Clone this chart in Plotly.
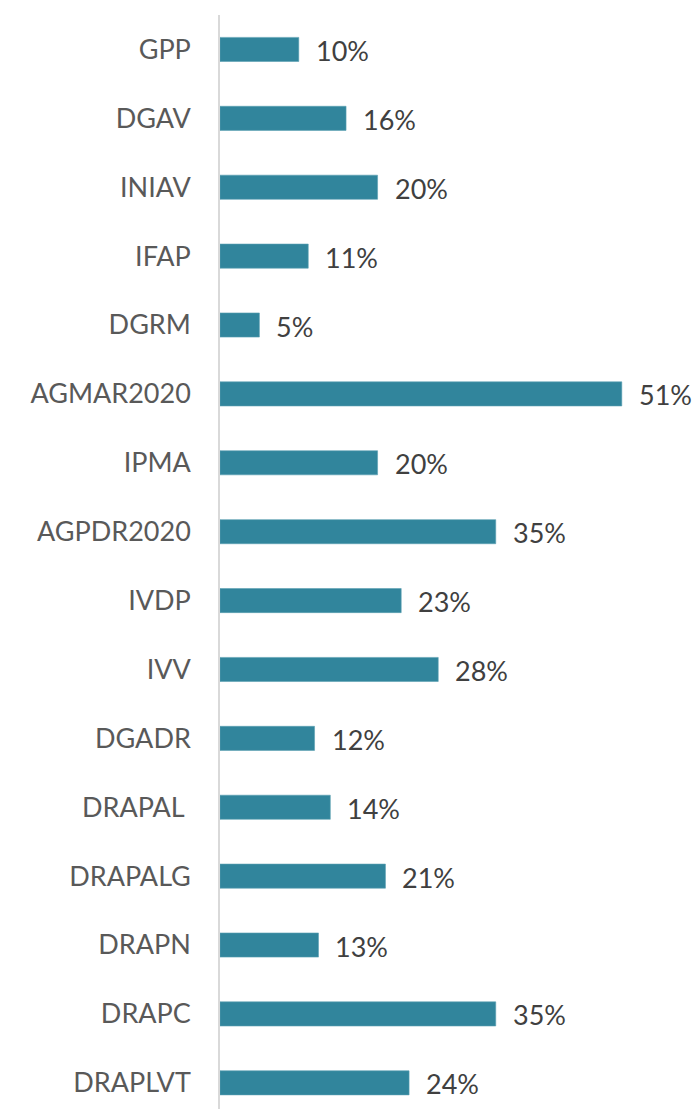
import plotly.graph_objects as go

categories = ["GPP", "DGAV", "INIAV", "IFAP", "DGRM", "AGMAR2020", "IPMA", "AGPDR2020",
              "IVDP", "IVV", "DGADR", "DRAPAL ", "DRAPALG", "DRAPN", "DRAPC", "DRAPLVT"]
values = [10, 16, 20, 11.2, 5, 51, 20, 35, 23, 27.7, 12, 14, 21, 12.5, 35, 24]
labels = ["10%", "16%", "20%", "11%", "5%", "51%", "20%", "35%",
          "23%", "28%", "12%", "14%", "21%", "13%", "35%", "24%"]

fig = go.Figure()
fig.add_trace(go.Bar(
    x=values, y=categories, orientation="h",
    marker=dict(color="#31859C", line=dict(color="#5a9fb2", width=0.6)),
    width=0.35, hoverinfo="skip", cliponaxis=False,
))
for c, v, t in zip(categories, values, labels):
    fig.add_annotation(x=v, y=c, text=t, showarrow=False, xanchor="left",
                       xshift=15, yshift=-1,
                       font=dict(family="Lato", size=27, color="#404040"))

fig.update_layout(
    width=699, height=1109,
    margin=dict(l=220, r=0, t=15, b=0, autoexpand=False),
    plot_bgcolor="white", paper_bgcolor="white",
    showlegend=False,
    xaxis=dict(range=[0, 60.8], visible=False, fixedrange=True, automargin=False),
    yaxis=dict(
        categoryorder="array", categoryarray=categories,
        range=[15.38, -0.5], automargin=False, fixedrange=True,
        showline=True, linecolor="#D9D9D9", linewidth=1.5,
        showgrid=False, zeroline=False, ticks="",
        ticklabelstandoff=22,
        tickfont=dict(family="Lato", size=27, color="#595959"),
    ),
)
fig.write_html("out.html", config={"displayModeBar": False},
               post_script="document.body.style.margin='0px';document.body.style.overflow='hidden';")
